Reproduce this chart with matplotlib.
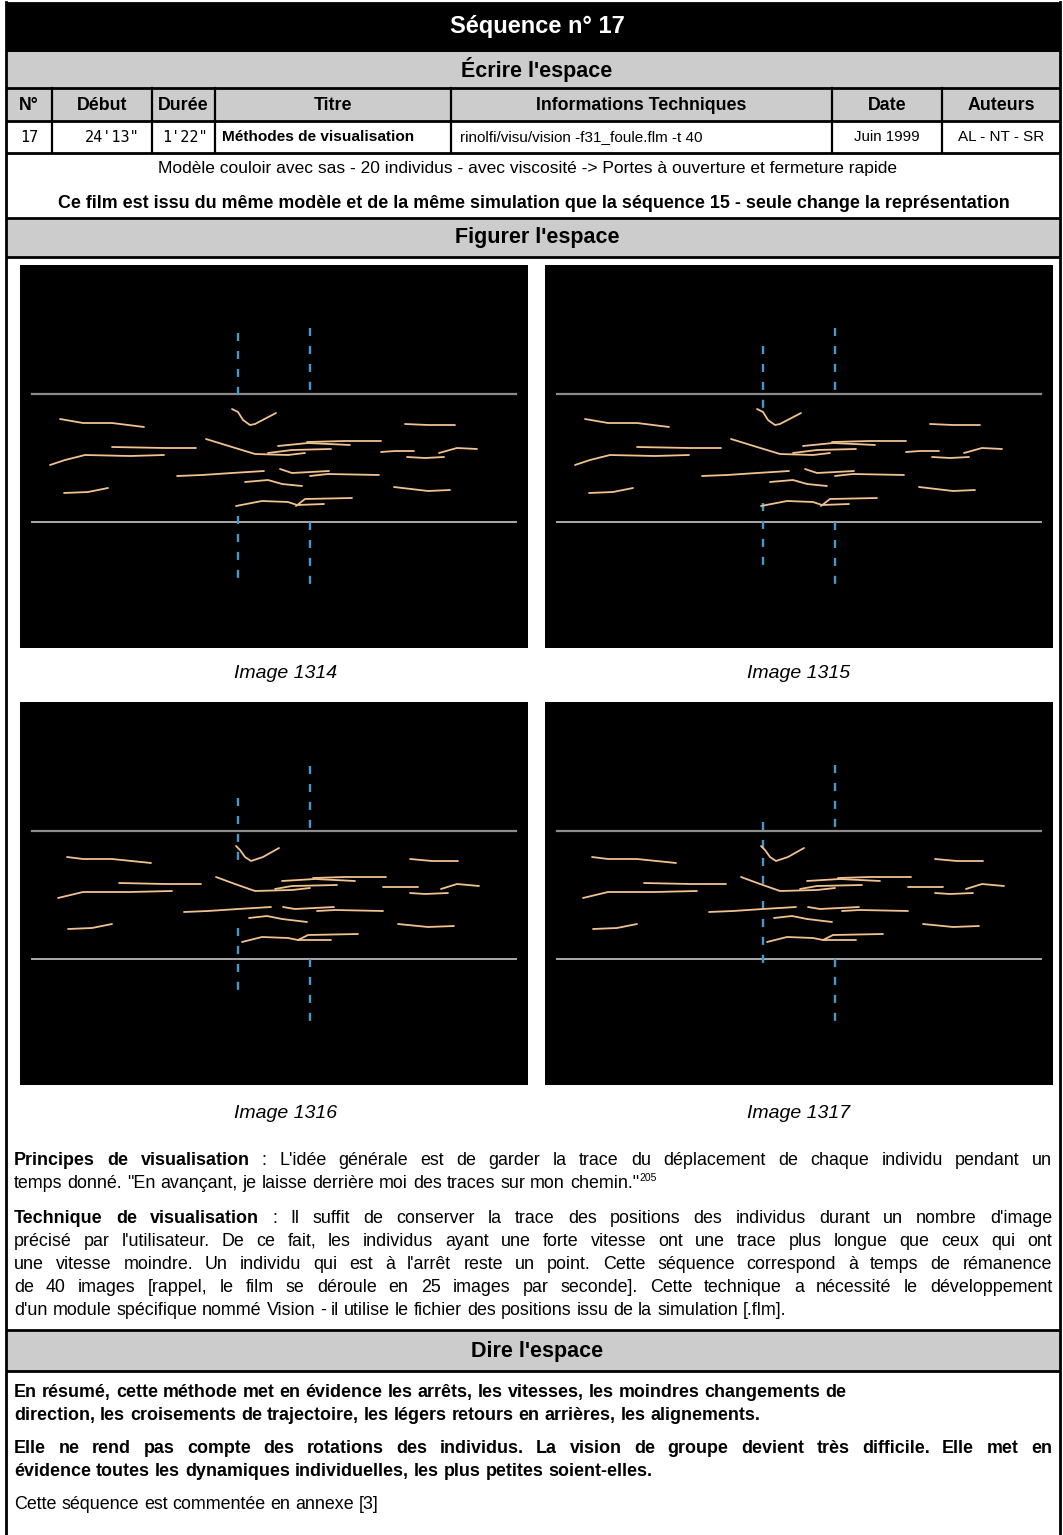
import matplotlib
matplotlib.use("Agg")
import matplotlib.pyplot as plt
from matplotlib.patches import Rectangle

W, H = 1063, 1535
SANS = "Liberation Sans"
MONO = "DejaVu Sans Mono"

# ---- header table ----
COLUMNS = ["N°", "Début", "Durée", "Titre", "Informations Techniques", "Date", "Auteurs"]
ROW = ["17", "24'13\"", "1'22\"", "Méthodes de visualisation",
       "rinolfi/visu/vision -f31_foule.flm -t 40", "Juin 1999", "AL - NT - SR"]
COL_EDGES = [6, 52, 152, 215, 451, 832, 942, 1060]

IMAGE_LABELS = ["Image 1314", "Image 1315", "Image 1316", "Image 1317"]

# ---- corridor scene, in image pixels (508 x 383 frames) ----
WALL_TOP = 129
WALL_BOTTOM = 257
WALL_X = (12, 496)
DOOR_X = (218, 290)

# door leaves per frame: left-top, left-bottom, right-top, right-bottom (y spans)
DOORS = [
    [(68, 134), (251, 317), (63, 129), (257, 323)],
    [(81, 148), (238, 303), (63, 129), (257, 323)],
    [(96, 159), (226, 290), (64, 129), (257, 321)],
    [(120, 186), (199, 265), (63, 128), (257, 320)],
]

TRACES_A = [
    [(40, 154), (63, 158), (92, 158), (124, 162)],
    [(212, 144), (218, 147), (223, 155), (230, 160), (235, 159), (256, 148)],
    [(385, 159), (408, 160), (435, 160)],
    [(92, 182), (145, 183), (176, 183)],
    [(30, 200), (45, 195), (65, 190), (110, 191), (144, 190)],
    [(186, 174), (212, 182), (235, 189), (268, 190), (285, 188)],
    [(258, 181), (288, 178), (330, 180)],
    [(287, 177), (325, 176), (361, 176)],
    [(248, 188), (272, 185), (311, 184)],
    [(361, 187), (375, 186), (394, 186)],
    [(387, 192), (405, 193), (424, 192)],
    [(419, 188), (437, 183), (457, 184)],
    [(157, 211), (182, 210), (212, 208), (244, 206)],
    [(260, 204), (272, 208), (309, 206)],
    [(290, 211), (308, 209), (359, 210)],
    [(225, 217), (248, 215), (262, 219), (282, 221)],
    [(44, 228), (68, 227), (88, 223)],
    [(374, 222), (408, 226), (430, 225)],
    [(216, 241), (242, 236), (268, 237), (277, 240), (304, 239)],
    [(276, 241), (285, 234), (332, 233)],
]
TRACES_B = [
    [(47, 155), (63, 157), (92, 157), (131, 161)],
    [(216, 144), (220, 148), (225, 155), (231, 159), (243, 155), (259, 146)],
    [(390, 157), (412, 159), (438, 159)],
    [(99, 181), (145, 182), (181, 182)],
    [(38, 196), (63, 190), (78, 190), (110, 190), (152, 189)],
    [(196, 175), (215, 182), (235, 189), (272, 188), (290, 186)],
    [(262, 179), (295, 177), (335, 179)],
    [(293, 176), (325, 175), (366, 175)],
    [(255, 187), (272, 184), (317, 183)],
    [(363, 185), (378, 185), (398, 185)],
    [(390, 191), (405, 192), (428, 191)],
    [(421, 187), (437, 182), (459, 184)],
    [(164, 210), (188, 209), (218, 207), (251, 205)],
    [(263, 205), (275, 207), (314, 205)],
    [(297, 209), (315, 208), (363, 209)],
    [(229, 216), (247, 214), (262, 217), (287, 220)],
    [(48, 227), (72, 226), (92, 222)],
    [(378, 222), (408, 225), (434, 224)],
    [(222, 240), (242, 235), (268, 236), (278, 238), (311, 238)],
    [(278, 238), (288, 233), (338, 232)],
]
FRAME_TRACES = [TRACES_A, TRACES_A, TRACES_B, TRACES_B]

# ---- body text: (parts, justified) ----
PRINCIPES = [
    ([("Principes de visualisation", "bold"),
      (": L'idée générale est de garder la trace du déplacement de chaque individu pendant un", "normal")], True),
    ([("temps donné. \"En avançant, je laisse derrière moi des traces sur mon chemin.\"", "normal")], False),
]
TECHNIQUE = [
    ([("Technique de visualisation", "bold"),
      (": Il suffit de conserver la trace des positions des individus durant un nombre d'image", "normal")], True),
    ([("précisé par l'utilisateur. De ce fait, les individus ayant une forte vitesse ont une trace plus longue que ceux qui ont", "normal")], True),
    ([("une vitesse moindre. Un individu qui est à l'arrêt reste un point. Cette séquence correspond à temps de rémanence", "normal")], True),
    ([("de 40 images [rappel, le film se déroule en 25 images par seconde]. Cette technique a nécessité le développement", "normal")], True),
    ([("d'un module spécifique nommé Vision - il utilise le fichier des positions issu de la simulation [.flm].", "normal")], False),
]
DIRE = [
    ([("En résumé, cette méthode met en évidence les arrêts, les vitesses, les moindres changements de", "bold")], False),
    ([("direction, les croisements de trajectoire, les légers retours en arrières, les alignements.", "bold")], False),
    ([("Elle ne rend pas compte des rotations des individus. La vision de groupe devient très difficile. Elle met en", "bold")], True),
    ([("évidence toutes les dynamiques individuelles, les plus petites soient-elles.", "bold")], False),
    ([("Cette séquence est commentée en annexe [3]", "normal")], False),
]

BODY_SIZE = 12.9
GRAY = "#cccccc"
TRACE_COLOR = "#f0c290"
DOOR_COLOR = "#4b98c8"
TEXT_L, TEXT_R = 14, 1052


fig = plt.figure(figsize=(W / 100, H / 100), dpi=100)
page = fig.add_axes([0, 0, 1, 1])
page.set_xlim(0, W)
page.set_ylim(H, 0)
page.axis("off")
renderer = fig.canvas.get_renderer()


def word_line(y, parts, justify, size=BODY_SIZE):
    """Lay a line out word by word (on a shared baseline) so full lines can be justified."""
    em = size * 100 / 72
    base = y + 0.26 * em
    words = []
    for txt, wt in parts:
        for w in txt.split(" "):
            if w:
                words.append((w, wt))
    arts, widths = [], []
    for w, wt in words:
        t = page.text(0, base, w, fontsize=size, fontweight=wt, family=SANS,
                      ha="left", va="baseline")
        arts.append(t)
        widths.append(t.get_window_extent(renderer).width)
    space = 0.278 * em
    if justify and len(words) > 1:
        space = (TEXT_R - TEXT_L - sum(widths)) / (len(words) - 1)
    x = TEXT_L
    for t, w in zip(arts, widths):
        t.set_x(x)
        x += w + space
    return x - space, base


def band(y0, y1, color):
    page.add_patch(Rectangle((COL_EDGES[0], y0), COL_EDGES[-1] - COL_EDGES[0], y1 - y0,
                             facecolor=color, edgecolor="none", zorder=0))


def hline(y, lw=2.0):
    page.plot([COL_EDGES[0], COL_EDGES[-1]], [y, y], color="black", lw=lw,
              solid_capstyle="butt", zorder=3)


# bands
band(3, 52, "black")
band(52, 121, GRAY)
band(218, 257, GRAY)
band(1330, 1371, GRAY)

# frame and rules
page.plot([COL_EDGES[0]] * 2, [2, H], color="black", lw=2.0, zorder=3)
page.plot([COL_EDGES[-1]] * 2, [2, H], color="black", lw=2.0, zorder=3)
hline(3, 2.0)
for y in (88, 121, 153, 218, 257, 1330, 1371):
    hline(y)
for x in COL_EDGES[1:-1]:
    page.plot([x, x], [88, 153], color="black", lw=1.6, zorder=3)

cx = 537
page.text(cx, 27, "Séquence n° 17", color="white", fontsize=17, fontweight="bold",
          family=SANS, ha="center", va="center")
page.text(cx, 70, "Écrire l'espace", fontsize=15.5, fontweight="bold",
          family=SANS, ha="center", va="center")

for i, name in enumerate(COLUMNS):
    page.text((COL_EDGES[i] + COL_EDGES[i + 1]) / 2, 105, name, fontsize=12.8,
              fontweight="bold", family=SANS, ha="center", va="center")

ry = 137
page.text((COL_EDGES[0] + COL_EDGES[1]) / 2, ry, ROW[0], fontsize=11, family=MONO,
          ha="center", va="center")
page.text(COL_EDGES[2] - 12, ry, ROW[1], fontsize=11, family=MONO, ha="right", va="center")
page.text(COL_EDGES[3] - 7, ry, ROW[2], fontsize=11, family=MONO, ha="right", va="center")
page.text(COL_EDGES[3] + 7, ry, ROW[3], fontsize=11.1, fontweight="bold", family=SANS,
          ha="left", va="center")
page.text(COL_EDGES[4] + 9, ry, ROW[4], fontsize=11, family=SANS, ha="left", va="center")
page.text((COL_EDGES[5] + COL_EDGES[6]) / 2, ry, ROW[5], fontsize=10.8, family=SANS,
          ha="center", va="center")
page.text((COL_EDGES[6] + COL_EDGES[7]) / 2, ry, ROW[6], fontsize=11, family=SANS,
          ha="center", va="center")

page.text(527, 169, "Modèle couloir avec sas - 20 individus - avec viscosité -> "
          "Portes à ouverture et fermeture rapide", fontsize=12.5, family=SANS,
          ha="center", va="center")
page.text(534, 203, "Ce film est issu du même modèle et de la même simulation que la "
          "séquence 15 - seule change la représentation", fontsize=12.9,
          fontweight="bold", family=SANS, ha="center", va="center")
page.text(cx, 238, "Figurer l'espace", fontsize=15.5, fontweight="bold",
          family=SANS, ha="center", va="center")
page.text(cx, 1351, "Dire l'espace", fontsize=15.5, fontweight="bold",
          family=SANS, ha="center", va="center")

# ---- the four frames ----
IMG_W, IMG_H = 508, 383
IMG_POS = [(20, 265), (545, 265), (20, 702), (545, 702)]
CAPTION_XY = [(286, 674), (799, 674), (286, 1113), (799, 1113)]
for k, (x0, y0) in enumerate(IMG_POS):
    ax = fig.add_axes([x0 / W, 1 - (y0 + IMG_H) / H, IMG_W / W, IMG_H / H])
    ax.set_facecolor("black")
    ax.set_xlim(0, IMG_W)
    ax.set_ylim(IMG_H, 0)
    ax.set_xticks([])
    ax.set_yticks([])
    for s in ax.spines.values():
        s.set_visible(False)
    ax.plot(WALL_X, [WALL_TOP] * 2, color="#8c8c8c", lw=1.6)
    ax.plot(WALL_X, [WALL_BOTTOM] * 2, color="#ababab", lw=1.4)
    for j, seg in enumerate(DOORS[k]):
        dx = DOOR_X[0] if j < 2 else DOOR_X[1]
        ax.plot([dx, dx], seg, color=DOOR_COLOR, lw=1.7, dashes=(3.4, 4.2))
    for tr in FRAME_TRACES[k]:
        ax.plot([p[0] for p in tr], [p[1] for p in tr], color=TRACE_COLOR,
                lw=1.3, solid_capstyle="round")
    cxk, cyk = CAPTION_XY[k]
    page.text(cxk, cyk, IMAGE_LABELS[k], fontsize=14, style="italic", family=SANS,
              ha="center", va="center")

# ---- paragraphs ----
LINE = 23
y = 1160
for i, (parts, just) in enumerate(PRINCIPES):
    x_end, base = word_line(y + i * LINE, parts, just)
page.text(x_end + 1, base - 7, "205", fontsize=7.5, family=SANS,
          ha="left", va="baseline")

y = 1218
for i, (parts, just) in enumerate(TECHNIQUE):
    word_line(y + i * LINE, parts, just)

DIRE_Y = [1392, 1415, 1448, 1471, 1504]
for yy, (parts, just) in zip(DIRE_Y, DIRE):
    word_line(yy, parts, just)

fig.savefig("out.png", dpi=100, facecolor="white")
